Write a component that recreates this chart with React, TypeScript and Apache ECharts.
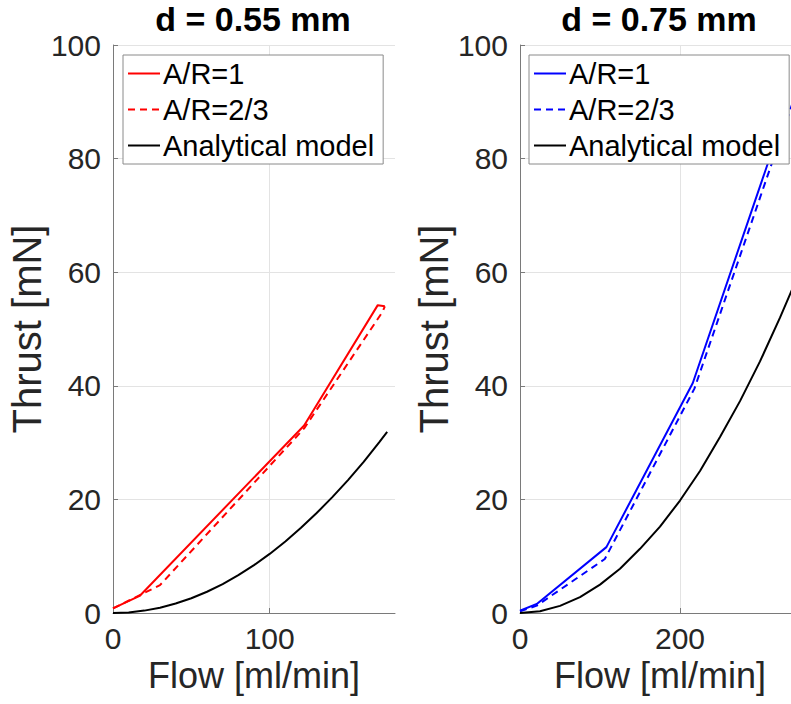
import React, { useEffect, useRef } from "react";
import * as echarts from "echarts";

// ---- data ----
const leftTitle = "d = 0.55 mm";
const rightTitle = "d = 0.75 mm";
const seriesNames = ["A/R=1", "A/R=2/3", "Analytical model"];

// left panel, d = 0.55 mm
const leftFlowAR1 = [0, 17, 122, 169, 173.5];
const leftThrustAR1 = [0.8, 3.0, 33.0, 54.2, 54.0];
const leftFlowAR23 = [0, 30, 122, 172, 173.5];
const leftThrustAR23 = [0.8, 4.9, 32.5, 53.0, 54.0];
const leftFlowModel = [0, 10, 20, 30, 40, 50, 60, 70, 80, 90, 100, 110, 120, 130, 140, 150, 160, 170, 175];
const leftThrustModel = [0, 0.1, 0.42, 0.94, 1.66, 2.6, 3.74, 5.1, 6.66, 8.42, 10.4, 12.6, 15.0, 17.6, 20.4, 23.4, 26.6, 30.1, 31.9];

// right panel, d = 0.75 mm
const rightFlowAR1 = [0, 21, 108, 216, 324, 330];
const rightThrustAR1 = [0.4, 1.6, 11.6, 40.5, 85.0, 85.5];
const rightFlowAR23 = [0, 21, 106, 218, 340];
const rightThrustAR23 = [0.3, 1.3, 9.5, 39.5, 89.5];
const rightFlowModel = [0, 25, 50, 75, 100, 125, 150, 175, 200, 225, 250, 275, 300, 325, 350];
const rightThrustModel = [0, 0.31, 1.25, 2.8, 5.0, 7.8, 11.3, 15.2, 19.8, 25.0, 31.0, 37.3, 44.3, 52.0, 60.2];

const yTicks = [0, 20, 40, 60, 80, 100];
const leftXTicks = [0, 100];
const rightXTicks = [0, 200];

const zip = (xs: number[], ys: number[]) => xs.map((x, i) => [x, ys[i]]);

const FONT = "'Liberation Sans', Arial, Helvetica, sans-serif";
const AXIS_COLOR = "#7a7a7a";
const GRID_COLOR = "#e3e3e3";
const TEXT_COLOR = "#262626";

export default function App() {
  const ref = useRef<HTMLDivElement>(null);
  useEffect(() => {
    if (!ref.current) return;
    const chart = echarts.init(ref.current, undefined, { renderer: "svg" });

    const makeX = (gridIndex: number, max: number, interval: number, ticks: number[]) => ({
      type: "value",
      gridIndex,
      min: 0,
      max,
      interval,
      name: "Flow [ml/min]",
      nameLocation: "middle",
      nameGap: 22,
      nameTextStyle: { fontSize: 36, color: TEXT_COLOR, fontFamily: FONT, verticalAlign: "top" },
      axisLine: { show: true, onZero: false, lineStyle: { color: AXIS_COLOR, width: 1 } },
      axisTick: { show: true, inside: true, length: 5, customValues: ticks, lineStyle: { color: AXIS_COLOR } },
      axisLabel: {
        show: true,
        customValues: ticks,
        margin: 10,
        fontSize: 30,
        color: TEXT_COLOR,
        fontFamily: FONT,
      },
      splitLine: { show: true, lineStyle: { color: [GRID_COLOR, GRID_COLOR, "rgba(0,0,0,0)"], width: 1 } },
    });
    const makeY = (gridIndex: number) => ({
      type: "value",
      gridIndex,
      min: 0,
      max: 100,
      interval: 20,
      name: "Thrust [mN]",
      nameLocation: "middle",
      nameGap: 60,
      nameRotate: 90,
      nameTextStyle: { fontSize: 40, color: TEXT_COLOR, fontFamily: FONT },
      axisLine: { show: true, onZero: false, lineStyle: { color: AXIS_COLOR, width: 1 } },
      axisTick: { show: true, inside: true, length: 5, lineStyle: { color: AXIS_COLOR } },
      axisLabel: {
        show: true,
        margin: 12,
        fontSize: 30,
        color: TEXT_COLOR,
        fontFamily: FONT,
        customValues: yTicks,
      },
      splitLine: { show: true, lineStyle: { color: GRID_COLOR, width: 1 } },
    });

    const legendBase = {
      orient: "vertical",
      top: 55,
      itemWidth: 32,
      itemHeight: 14,
      itemGap: 7,
      padding: [4, 9, 4, 4],
      borderColor: "#8a8a8a",
      borderWidth: 1,
      borderRadius: 0,
      backgroundColor: "#ffffff",
      selectedMode: false,
      itemStyle: { opacity: 0, borderWidth: 0 },
      formatter: (n: string) => n.trim(),
      textStyle: { fontSize: 29, color: "#000", fontFamily: FONT, lineHeight: 29, padding: [0, 0, 0, -2] },
    };

    const line = (name: string, data: number[][], color: string, dashed: boolean, idx: number, width = 2) => ({
      type: "line",
      name,
      xAxisIndex: idx,
      yAxisIndex: idx,
      data,
      showSymbol: false,
      symbol: "none",
      clip: true,
      lineStyle: { color, width, type: dashed ? [7, 5] : "solid" },
      itemStyle: { color },
      emphasis: { disabled: true },
    });

    const rn = seriesNames.map((n) => n + " ");

    chart.setOption({
      animation: false,
      backgroundColor: "#ffffff",
      grid: [
        { left: 113, top: 45, width: 282, height: 568 },
        { left: 520, top: 45, width: 280, height: 568 },
      ],
      xAxis: [makeX(0, 180, 100, leftXTicks), makeX(1, 350, 200, rightXTicks)],
      yAxis: [makeY(0), makeY(1)],
      legend: [
        { ...legendBase, left: 123, data: seriesNames },
        { ...legendBase, left: 529, data: rn },
      ],
      graphic: [
        {
          type: "text",
          x: 253,
          y: 19,
          style: { text: leftTitle, font: `bold 34px ${FONT}`, fill: "#000", textAlign: "center", textVerticalAlign: "middle" },
        },
        {
          type: "text",
          x: 659,
          y: 19,
          style: { text: rightTitle, font: `bold 34px ${FONT}`, fill: "#000", textAlign: "center", textVerticalAlign: "middle" },
        },
      ],
      series: [
        line(seriesNames[0], zip(leftFlowAR1, leftThrustAR1), "#ff0000", false, 0),
        line(seriesNames[1], zip(leftFlowAR23, leftThrustAR23), "#ff0000", true, 0),
        line(seriesNames[2], zip(leftFlowModel, leftThrustModel), "#000000", false, 0),
        line(rn[0], zip(rightFlowAR1, rightThrustAR1), "#0000ff", false, 1),
        line(rn[1], zip(rightFlowAR23, rightThrustAR23), "#0000ff", true, 1),
        line(rn[2], zip(rightFlowModel, rightThrustModel), "#000000", false, 1),
      ],
    });
    return () => chart.dispose();
  }, []);

  return (
    <div style={{ position: "fixed", left: 0, top: 0, width: 791, height: 704, overflow: "hidden", background: "#fff" }}>
      <div ref={ref} style={{ width: 812, height: 704 }} />
    </div>
  );
}
